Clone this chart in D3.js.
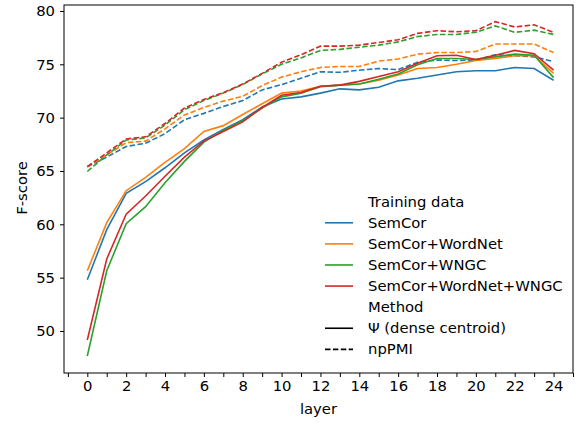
<!DOCTYPE html>
<html>
<head>
<meta charset="utf-8">
<script src="https://cdn.jsdelivr.net/npm/d3@7"></script>
<style>
  body { margin: 0; background: #fff; }
  svg text { font-family: "DejaVu Sans", sans-serif; fill: #000; }
</style>
</head>
<body>
<div id="chart"></div>
<script>
// F-score per layer, four training sets x two methods
const layers = d3.range(0, 25);
const trainingSets = ['SemCor', 'SemCor+WordNet', 'SemCor+WNGC', 'SemCor+WordNet+WNGC'];
const setColors = ['#1f77b4', '#ff7f0e', '#2ca02c', '#d62728'];
const yTicks = [50, 55, 60, 65, 70, 75, 80];

// solid lines: Psi (dense centroid)
const psiSemCor   = [54.8, 59.5, 62.9, 64.0, 65.3, 66.7, 67.9, 68.9, 69.8, 71.0, 71.75, 71.95, 72.3, 72.7, 72.6, 72.85, 73.45, 73.7, 74.0, 74.3, 74.4, 74.4, 74.7, 74.6, 73.5];
const psiWordNet  = [55.65, 60.15, 63.15, 64.4, 65.8, 67.1, 68.7, 69.25, 70.3, 71.3, 72.3, 72.5, 72.95, 73.05, 73.15, 73.5, 74.0, 74.6, 74.7, 75.0, 75.35, 75.55, 75.8, 75.8, 74.15];
const psiWNGC     = [47.65, 55.65, 60.05, 61.65, 63.9, 65.9, 67.7, 68.8, 69.7, 70.9, 71.95, 72.3, 72.9, 73.05, 73.15, 73.6, 74.1, 74.95, 75.55, 75.55, 75.45, 75.7, 75.95, 75.85, 73.75];
const psiAll      = [49.15, 56.75, 60.95, 62.65, 64.5, 66.3, 67.8, 68.7, 69.6, 70.95, 72.1, 72.35, 72.95, 73.05, 73.4, 73.85, 74.3, 75.1, 75.8, 75.85, 75.45, 75.85, 76.3, 76.0, 74.45];

// dashed lines: npPMI
const npSemCor    = [65.4, 66.3, 67.3, 67.6, 68.5, 69.8, 70.4, 71.05, 71.6, 72.6, 73.1, 73.7, 74.3, 74.25, 74.45, 74.6, 74.5, 75.2, 75.4, 75.35, 75.4, 75.9, 75.8, 75.7, 75.25];
const npWordNet   = [65.4, 66.5, 67.65, 67.8, 68.95, 70.25, 70.95, 71.55, 72.0, 73.0, 73.8, 74.3, 74.7, 74.8, 74.8, 75.3, 75.5, 75.95, 76.1, 76.1, 76.2, 76.9, 76.9, 76.9, 76.1];
const npWNGC      = [64.95, 66.5, 67.9, 68.1, 69.3, 70.75, 71.6, 72.3, 73.1, 74.1, 75.0, 75.6, 76.3, 76.4, 76.6, 76.8, 77.1, 77.6, 77.8, 77.8, 78.0, 78.6, 78.0, 78.2, 77.8];
const npAll       = [65.4, 66.7, 68.0, 68.2, 69.45, 70.9, 71.7, 72.35, 73.15, 74.15, 75.2, 75.9, 76.7, 76.7, 76.8, 77.05, 77.3, 77.9, 78.15, 78.05, 78.15, 79.0, 78.5, 78.7, 78.0];

const psiSeries = [psiSemCor, psiWordNet, psiWNGC, psiAll];
const npSeries = [npSemCor, npWordNet, npWNGC, npAll];

const W = 580, H = 423;
const margin = {l: 64, r: 7, t: 5, b: 50};
const w = W - margin.l - margin.r;
const h = H - margin.t - margin.b;
const fs = '14.8px';

const svg = d3.select('#chart').append('svg').attr('width', W).attr('height', H);
const g = svg.append('g').attr('transform', `translate(${margin.l},${margin.t})`);

const x = d3.scaleLinear().domain([-1.2, 25]).range([0, w]);
const y = d3.scaleLinear().domain([46.06, 80.56]).range([h, 0]);

const line = d3.line().x((d, i) => x(layers[i])).y(d => y(d));

// npPMI first, then psi on top
npSeries.forEach((s, i) => {
  g.append('path').datum(s)
    .attr('fill', 'none').attr('stroke', setColors[i]).attr('stroke-width', 1.6)
    .attr('stroke-dasharray', '5.5,2.4').attr('d', line);
});
psiSeries.forEach((s, i) => {
  g.append('path').datum(s)
    .attr('fill', 'none').attr('stroke', setColors[i]).attr('stroke-width', 1.6)
    .attr('d', line);
});

// axes
const xAxis = d3.axisBottom(x).tickValues(d3.range(-1, 26)).tickSize(4).tickPadding(3)
  .tickFormat(d => (d >= 0 && d <= 24 && d % 2 === 0) ? d : '');
const gx = g.append('g').attr('transform', `translate(0,${h})`).call(xAxis);
gx.select('.domain').remove();
gx.selectAll('text').attr('font-size', fs);

const yAxis = d3.axisLeft(y).tickValues(yTicks).tickSize(4).tickPadding(5);
const gy = g.append('g').call(yAxis);
gy.select('.domain').remove();
gy.selectAll('text').attr('font-size', fs);

// frame
g.append('rect').attr('x', 0).attr('y', 0).attr('width', w).attr('height', h)
  .attr('fill', 'none').attr('stroke', '#000').attr('stroke-width', 1);

// axis labels
svg.append('text').attr('x', margin.l + w / 2).attr('y', 414).attr('text-anchor', 'middle')
  .attr('font-size', fs).text('layer');
svg.append('text').attr('transform', 'translate(27,188) rotate(-90)').attr('text-anchor', 'middle')
  .attr('font-size', fs).text('F-score');

// legend
const legendRows = [
  {label: 'Training data'},
  ...trainingSets.map((t, i) => ({label: t, color: setColors[i]})),
  {label: 'Method'},
  {label: '\u03A8 (dense centroid)', color: '#000'},
  {label: 'npPMI', color: '#000', dash: '5.5,2.4'}
];
const legend = svg.append('g');
legendRows.forEach((r, i) => {
  const cy = 201.7 + i * 21.09;
  if (r.color) {
    legend.append('line').attr('x1', 325).attr('x2', 353).attr('y1', cy).attr('y2', cy)
      .attr('stroke', r.color).attr('stroke-width', 1.6)
      .attr('stroke-dasharray', r.dash || null);
  }
  legend.append('text').attr('x', 368).attr('y', cy + 5).attr('font-size', fs).text(r.label);
});
</script>
</body>
</html>
